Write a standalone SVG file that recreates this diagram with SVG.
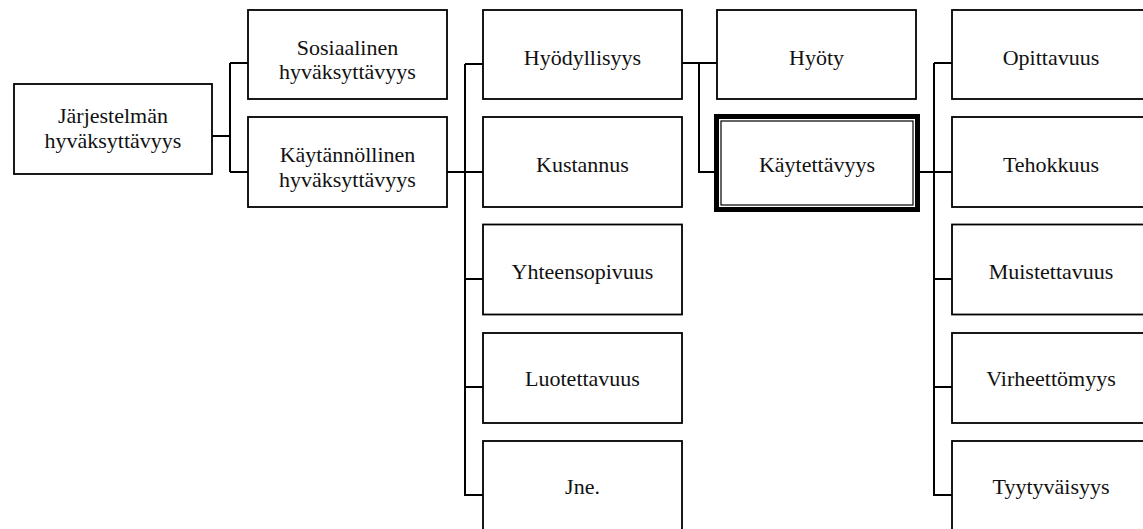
<svg xmlns="http://www.w3.org/2000/svg" width="1143" height="529" viewBox="0 0 1143 529">
<style>
.box{fill:#fff;stroke:#000;stroke-width:1.8}
.conn{fill:none;stroke:#000;stroke-width:2}
text{font-family:"Liberation Serif","Times New Roman",serif;font-size:22px;fill:#111;text-anchor:middle}
</style>
<rect width="1143" height="529" fill="#fff"/>
<g id="connectors" class="conn">
<path d="M212,136 H230 M230,63 V172 M230,63 H248 M230,172 H248"/>
<path d="M447,172 H465 M465,64 V496 M465,64 H483 M465,172 H483 M465,279 H483 M465,387 H483 M465,495 H483"/>
<path d="M682,63 H717 M699,63 V172 H714"/>
<path d="M920,172 H952 M934,63 V496 M934,63 H952 M934,172 H952 M934,279 H952 M934,387 H952 M934,495 H952"/>
</g>
<g id="n-root"><rect class="box" x="14" y="84" width="198" height="90"/><text x="113" y="123">Järjestelmän</text><text x="113" y="148">hyväksyttävyys</text></g>
<g id="n-sos"><rect class="box" x="248" y="10" width="199" height="89"/><text x="347.5" y="55">Sosiaalinen</text><text x="347.5" y="79">hyväksyttävyys</text></g>
<g id="n-kay"><rect class="box" x="248" y="117" width="199" height="90"/><text x="347.5" y="162">Käytännöllinen</text><text x="347.5" y="186.5">hyväksyttävyys</text></g>
<g id="n-hyod"><rect class="box" x="483" y="10" width="199" height="89"/><text x="582.5" y="65">Hyödyllisyys</text></g>
<g id="n-kust"><rect class="box" x="483" y="117" width="199" height="90"/><text x="582.5" y="172">Kustannus</text></g>
<g id="n-yht"><rect class="box" x="483" y="224.5" width="199" height="90"/><text x="582.5" y="279">Yhteensopivuus</text></g>
<g id="n-luot"><rect class="box" x="483" y="333" width="199" height="90"/><text x="582.5" y="386">Luotettavuus</text></g>
<g id="n-jne"><rect class="box" x="483" y="441" width="199" height="100"/><text x="582.5" y="494">Jne.</text></g>
<g id="n-hyoty"><rect class="box" x="717" y="10" width="199" height="89"/><text x="816.5" y="65">Hyöty</text></g>
<g id="n-kaytet"><rect x="716.5" y="116.5" width="201" height="93" fill="#fff" stroke="#000" stroke-width="5"/><rect x="721" y="121" width="192" height="84" fill="none" stroke="#000" stroke-width="1.2"/><text x="817" y="172">Käytettävyys</text></g>
<g id="n-opit"><rect class="box" x="952" y="10" width="199" height="89"/><text x="1051" y="65">Opittavuus</text></g>
<g id="n-teho"><rect class="box" x="952" y="117" width="199" height="90"/><text x="1051" y="172">Tehokkuus</text></g>
<g id="n-muis"><rect class="box" x="952" y="224.5" width="199" height="90"/><text x="1051" y="279">Muistettavuus</text></g>
<g id="n-virh"><rect class="box" x="952" y="333" width="199" height="90"/><text x="1051" y="386">Virheettömyys</text></g>
<g id="n-tyyt"><rect class="box" x="952" y="441" width="199" height="100"/><text x="1051" y="494">Tyytyväisyys</text></g>
</svg>
